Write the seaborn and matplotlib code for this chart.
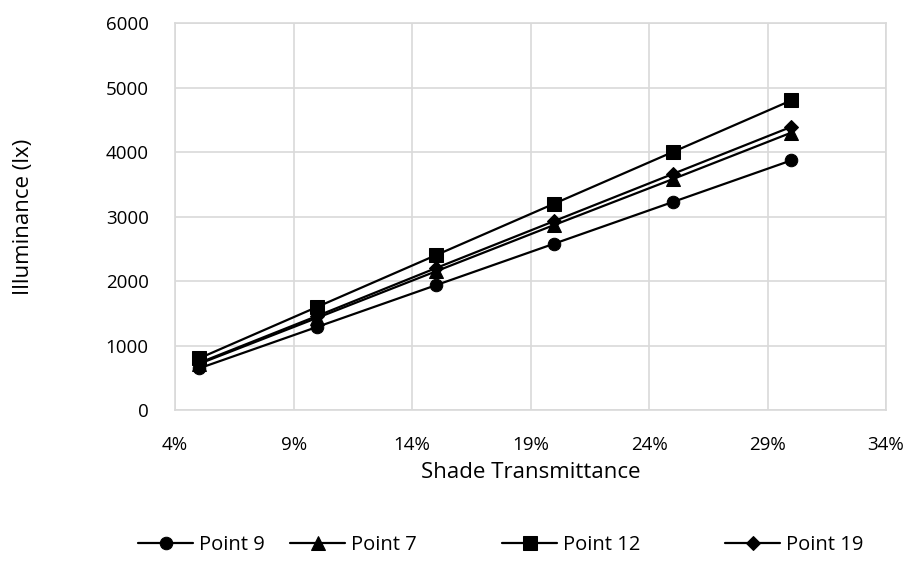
import matplotlib
matplotlib.use("Agg")
import matplotlib.pyplot as plt
import seaborn as sns
import pandas as pd
from matplotlib.ticker import FuncFormatter, MultipleLocator

transmittance = [0.05, 0.10, 0.15, 0.20, 0.25, 0.30]
point9 = [645, 1290, 1935, 2580, 3225, 3870]
point7 = [715, 1430, 2150, 2870, 3580, 4300]
point12 = [800, 1600, 2400, 3200, 4000, 4800]
point19 = [730, 1460, 2200, 2930, 3660, 4390]
series_names = ["Point 9", "Point 7", "Point 12", "Point 19"]
series_values = [point9, point7, point12, point19]
markers = ["o", "^", "s", "D"]
x_ticks = [0.04, 0.09, 0.14, 0.19, 0.24, 0.29, 0.34]

rows = []
for name, vals in zip(series_names, series_values):
    for x, v in zip(transmittance, vals):
        rows.append({"x": x, "y": v, "series": name})
df = pd.DataFrame(rows)

sns.set_theme(style="white")
plt.rcParams["font.family"] = ["Open Sans", "DejaVu Sans"]
plt.rcParams["text.color"] = "black"
plt.rcParams["axes.labelcolor"] = "black"

fig = plt.figure(figsize=(9.12, 5.68), dpi=100)
ax = fig.add_axes([0.192, 0.278, 0.7795, 0.6815])

sizes = {"o": 9, "^": 9.5, "s": 9.5, "D": 7.5}
for name, vals, m in zip(series_names, series_values, markers):
    sub = df[df.series == name]
    sns.lineplot(data=sub, x="x", y="y", ax=ax, color="black", linewidth=1.6,
                 marker=m, markersize=sizes[m], markeredgecolor="black",
                 markerfacecolor="black", label=name)

ax.set_xlim(0.04, 0.34)
ax.set_ylim(0, 6000)
ax.set_xticks(x_ticks)
ax.xaxis.set_major_formatter(FuncFormatter(lambda v, p: f"{round(v*100)}%"))
ax.yaxis.set_major_locator(MultipleLocator(1000))
ax.grid(True, color="#d9d9d9", linewidth=1.2)
for s in ax.spines.values():
    s.set_color("#d9d9d9")
    s.set_linewidth(1.2)
ax.tick_params(axis="both", labelsize=13.5, colors="black", length=0, pad=19)
ax.set_xlabel("Shade Transmittance", fontsize=16)
ax.set_ylabel("Illuminance (lx)", fontsize=16)
ax.xaxis.set_label_coords(0.5, -0.134)
ax.yaxis.set_label_coords(-0.198, 0.5)

handles, labels = ax.get_legend_handles_labels()
ax.get_legend().remove()
legend_x = [138, 290, 502, 725]
for h, lab, lx in zip(handles, labels, legend_x):
    fig.legend([h], [lab], loc="center left", bbox_to_anchor=(lx / 912, 0.0405),
               frameon=False, fontsize=14.5, handlelength=2.75,
               handletextpad=0.3, borderpad=0, borderaxespad=0)

fig.savefig("out.png", dpi=100)
